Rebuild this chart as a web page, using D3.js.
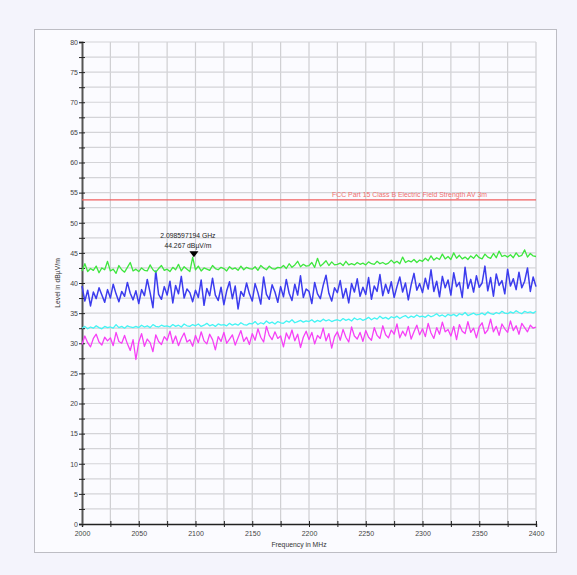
<!DOCTYPE html>
<html>
<head>
<meta charset="utf-8">
<script src="https://cdn.jsdelivr.net/npm/d3@7"></script>
<style>
  body { margin: 0; background: #f4f4fc; }
  svg { display: block; font-family: "Liberation Sans", Arial, sans-serif; }
</style>
</head>
<body>
<script>
var w = 577, h = 575;

// frequency axis: 2000 .. 2400 MHz, one reading every 2.5 MHz
var fStart = 2000, fStep = 2.5;

var green = [
  42.0, 43.2, 41.9, 42.4, 42.1, 42.8, 41.7, 42.5, 42.2, 43.6,
  42.0, 42.3, 41.6, 42.9, 42.2, 41.8, 42.6, 43.4, 42.0, 42.3,
  41.9, 42.5, 42.1, 42.0, 43.0, 42.2, 41.8, 42.4, 42.9, 42.1,
  42.3, 41.9, 42.6, 42.2, 43.1, 42.0, 42.7, 42.3, 41.9, 44.27,
  42.2, 42.8, 42.0, 42.5, 42.3, 42.1, 42.9, 42.4, 42.2, 42.6,
  42.4, 42.0, 42.7, 42.3, 42.5, 42.1, 42.8, 42.2, 42.6, 42.4,
  42.3, 42.7, 42.1, 42.9, 42.5, 42.2, 42.8, 42.4, 42.3, 42.6,
  42.5, 42.9, 42.4, 43.2, 42.6, 43.0, 43.6, 42.7, 43.1, 42.8,
  42.9, 43.4, 42.6, 44.1, 42.8, 43.2, 43.7, 42.9, 43.5, 43.0,
  43.1, 43.3, 42.9, 43.6, 43.0, 43.2, 43.0, 43.4, 43.1, 43.3,
  43.0, 43.5, 43.2, 43.1, 43.6, 43.2, 43.4, 43.1, 43.3, 43.8,
  43.3, 43.6, 43.2, 44.3, 43.4, 43.7, 43.5, 43.9, 43.4, 43.8,
  43.6, 44.1, 43.7, 44.5, 43.8, 44.2, 43.9, 44.8, 44.0, 44.4,
  43.9, 45.0, 44.1, 44.6, 44.0, 44.3, 43.9, 44.5, 44.1, 44.7,
  44.2, 44.0, 44.8, 44.3, 44.1, 44.9, 44.2, 45.3, 44.4, 44.6,
  44.3, 44.7, 44.2, 45.0, 44.4, 44.6, 45.5, 44.3, 44.9, 44.5,
  44.4
];
var blue = [
  39.5, 37.0, 38.8, 36.2, 38.5, 37.4, 39.2, 38.0, 36.8, 38.9,
  37.5, 39.8, 38.2, 36.9, 38.6, 37.8, 40.1, 38.3, 37.2, 38.7,
  36.6, 38.9, 37.9, 40.6, 38.4, 35.9, 42.0, 38.1, 37.3, 39.4,
  38.0, 40.3, 36.7, 39.6, 38.2, 41.1, 37.5, 39.0, 38.4, 36.9,
  38.8, 37.6, 40.5, 36.3, 39.1, 37.9, 40.8, 38.0, 37.1, 39.3,
  36.4, 38.7, 40.2, 37.4, 39.5, 35.7, 38.6, 37.8, 40.0, 38.2,
  37.0, 39.9, 38.4, 36.5, 41.0, 38.1, 37.3, 39.7, 38.5, 36.8,
  39.4, 37.7, 40.6, 38.3, 37.1, 39.8, 38.0, 41.2, 37.6, 39.0,
  38.6, 36.6, 40.1, 38.2, 37.4, 39.6, 41.3, 38.3, 37.0, 39.2,
  38.4, 40.4, 37.5, 39.1, 36.7, 39.9, 38.5, 40.7, 37.8, 39.3,
  38.1, 40.9, 37.3, 39.5, 38.6, 41.4, 37.9, 39.8, 38.3, 40.2,
  37.6, 39.4, 41.0, 38.5, 40.0, 37.2, 39.7, 41.6, 38.8, 39.9,
  38.4, 40.8, 39.0, 42.2, 38.6, 40.3, 37.7, 41.1, 39.2, 40.5,
  38.0, 41.7, 39.4, 40.1, 37.6, 42.6, 39.1, 40.6, 38.5, 41.2,
  39.3, 40.0, 42.8, 38.7, 40.9, 37.8, 41.5, 39.6, 40.4, 38.2,
  42.3, 39.5, 40.7, 38.9, 41.8, 39.2, 40.3, 42.5, 38.6, 41.0,
  39.4
];
var cyan = [
  32.5, 32.8, 32.4, 32.7, 32.5, 32.9, 32.6, 32.4, 32.8, 32.6,
  32.7, 32.5, 33.1, 32.6, 32.8, 32.5, 32.9, 32.7, 32.6, 32.8,
  32.6, 33.0, 32.7, 32.9, 32.6, 33.1, 32.8, 32.7, 33.0, 32.8,
  32.9, 32.7, 33.1, 32.8, 33.0, 32.7, 33.2, 32.9, 32.8, 33.1,
  32.9, 33.2, 32.8, 33.0, 33.3, 32.9, 33.1, 32.8, 33.2, 33.0,
  33.1, 32.9, 33.3, 33.0, 33.2, 33.0, 33.4, 33.1, 33.0, 33.3,
  33.2, 33.6, 33.1, 33.4, 33.2, 33.7, 33.3, 33.5, 33.2, 33.6,
  33.4, 33.3, 33.7, 33.5, 33.9, 33.4, 33.6, 33.8, 33.5, 33.7,
  33.6, 33.9, 33.5, 33.8, 33.6, 34.0, 33.7, 33.9, 33.6, 33.8,
  33.9, 33.7, 34.1, 33.8, 34.0, 33.7, 34.2, 33.9, 34.1, 33.8,
  34.0, 34.3, 33.9, 34.2, 34.0, 34.5, 34.1, 34.3, 34.0, 34.4,
  34.2, 34.5, 34.1, 34.4, 34.6, 34.2, 34.5, 34.3, 34.7, 34.4,
  34.5, 34.3, 34.7, 34.4, 34.6, 34.9, 34.5, 34.7, 34.4, 34.8,
  34.6, 34.8, 34.5, 34.9, 34.7, 35.1, 34.6, 34.8, 35.0, 34.7,
  34.8, 35.0, 34.7, 35.2, 34.9, 34.8, 35.1, 34.9, 35.3, 35.0,
  34.9, 35.2, 35.0, 35.4, 35.1, 34.9, 35.3, 35.1, 35.2, 35.0,
  35.3
];
var magenta = [
  29.8, 31.2, 30.1, 29.4, 30.8, 31.5, 30.2, 29.7, 31.0, 30.4,
  30.9, 29.6, 31.8, 30.3, 30.0, 31.3, 29.9, 28.8, 30.6, 27.3,
  30.2, 31.6, 29.5, 30.7, 30.1, 28.6, 31.4, 30.3, 29.8, 31.1,
  30.5, 32.0, 30.0, 31.2, 29.6, 30.8, 31.7, 30.2, 30.6, 29.5,
  31.3, 30.1, 31.9, 30.4, 29.9, 31.5, 30.6, 28.9, 31.1, 30.3,
  31.8, 30.0, 30.7, 31.4, 29.7, 30.9, 32.1, 30.3, 31.0, 29.8,
  31.6, 30.5, 32.4, 31.0, 30.2, 32.8, 31.3, 30.6, 31.9, 30.8,
  31.2, 29.4, 31.7, 30.7, 32.2, 30.4, 31.5, 29.3, 31.0, 32.0,
  30.6, 31.8, 29.9, 31.3, 30.8, 32.5, 30.4, 31.6, 29.2, 31.1,
  31.9, 30.5, 32.3, 31.0, 30.2, 32.7, 31.2, 30.7, 31.8, 30.3,
  32.1, 31.0, 30.5, 32.6, 31.3, 30.8, 32.9, 31.4, 30.9, 32.2,
  31.5, 33.2, 30.9, 32.0, 31.2, 32.8, 30.7, 31.9, 33.0, 31.4,
  32.4, 31.1, 33.3, 31.7, 30.8, 32.6, 31.5, 33.5, 31.9, 32.3,
  31.2, 32.8, 30.6, 33.1, 32.0, 31.6, 33.6, 31.8, 32.5, 30.9,
  32.7, 33.4, 31.6, 32.2, 34.0, 31.9, 32.8, 31.3, 33.2, 32.4,
  31.8, 33.7, 32.1, 32.9, 31.5, 33.3, 32.6, 31.9, 33.0, 32.5,
  32.7
];

var limitValue = 53.8;
var limitLabel = "FCC Part 15 Class B Electric Field Strength AV 3m";
var markerFreq = 2098.597194;
var markerLevel = 44.267;
var markerLines = ["2.098597194 GHz", "44.267 dB\u00b5V/m"];

var xTicks = [2000, 2050, 2100, 2150, 2200, 2250, 2300, 2350, 2400];
var yTicks = [0, 5, 10, 15, 20, 25, 30, 35, 40, 45, 50, 55, 60, 65, 70, 75, 80];

var series = [
  { name: "cyan", values: cyan, color: "#44f4f4", width: 1.3 },
  { name: "magenta", values: magenta, color: "#f640f6", width: 1.3 },
  { name: "blue", values: blue, color: "#3c3cee", width: 1.5 },
  { name: "green", values: green, color: "#3ee63e", width: 1.3 }
];

var svg = d3.select("body").append("svg")
  .attr("width", w)
  .attr("height", h);

svg.append("rect")
  .attr("x", 34.5).attr("y", 29.5)
  .attr("width", 522).attr("height", 523)
  .style("fill", "#fbfbff")
  .style("stroke", "#bdbdc4");

var x = d3.scaleLinear().domain([2000, 2400]).range([82, 536]);
var y = d3.scaleLinear().domain([0, 80]).range([524, 42]);

// grid
var gx = d3.range(2000, 2401, 25);
var gy = d3.range(0, 80.1, 2.5);

svg.append("g").selectAll("line")
  .data(gx.slice(1))
  .enter().append("line")
  .attr("x1", function(d){ return x(d); })
  .attr("x2", function(d){ return x(d); })
  .attr("y1", y(80)).attr("y2", y(0))
  .style("stroke", "#cfcfd2")
  .style("stroke-width", 1.2);

svg.append("g").selectAll("line")
  .data(gy.slice(1))
  .enter().append("line")
  .attr("x1", x(2000)).attr("x2", x(2400))
  .attr("y1", function(d){ return y(d); })
  .attr("y2", function(d){ return y(d); })
  .style("stroke", "#d4d4d8")
  .style("stroke-width", 1.2);

// axes
var xAxis = d3.axisBottom(x).tickValues(gx).tickSize(3)
  .tickFormat(function(d){ return xTicks.indexOf(d) >= 0 ? d : ""; });
var gX = svg.append("g").attr("transform", "translate(0," + y(0) + ")").call(xAxis);
gX.select(".domain").style("stroke", "#222").style("stroke-width", 1.4);
gX.selectAll(".tick line").attr("y1", -3).style("stroke", "#222");
gX.selectAll(".tick text").attr("y", 7).style("font-size", "7px").style("fill", "#444");

var yAxis = d3.axisLeft(y).tickValues(gy).tickSize(3)
  .tickFormat(function(d){ return yTicks.indexOf(d) >= 0 ? d : ""; });
var gY = svg.append("g").attr("transform", "translate(" + x(2000) + ",0)").call(yAxis);
gY.select(".domain").style("stroke", "#555").style("stroke-width", 2);
gY.selectAll(".tick line").attr("x1", 3).style("stroke", "#222");
gY.selectAll(".tick text").attr("x", -4).style("font-size", "7px").style("fill", "#444");

// limit line
svg.append("line")
  .attr("x1", x(2000)).attr("x2", x(2400))
  .attr("y1", y(limitValue)).attr("y2", y(limitValue))
  .style("stroke", "#f06060")
  .style("stroke-width", 1.4);
svg.append("text")
  .attr("x", x(2400) - 49).attr("y", y(limitValue) - 2.5)
  .attr("text-anchor", "end")
  .style("font-size", "6.9px")
  .style("fill", "#f07070")
  .text(limitLabel);

// traces
var line = d3.line()
  .x(function(d, i){ return x(fStart + i * fStep); })
  .y(function(d){ return y(d); });

svg.append("g").selectAll("path")
  .data(series)
  .enter().append("path")
  .attr("d", function(d){ return line(d.values); })
  .style("fill", "none")
  .style("stroke", function(d){ return d.color; })
  .style("stroke-width", function(d){ return d.width; })
  .style("stroke-linejoin", "round");

// marker
var mx = x(markerFreq), my = y(markerLevel);
svg.append("path")
  .attr("d", "M" + (mx - 4.5) + "," + (my - 6) + "L" + (mx + 4.5) + "," + (my - 6) + "L" + mx + "," + my + "Z")
  .style("fill", "#000");
svg.append("g").selectAll("text")
  .data(markerLines)
  .enter().append("text")
  .attr("x", mx - 6)
  .attr("y", function(d, i){ return my - 19 + i * 9.5; })
  .attr("text-anchor", "middle")
  .style("font-size", "6.8px")
  .style("fill", "#222")
  .text(function(d){ return d; });

// axis titles
svg.append("text")
  .attr("x", 299).attr("y", 547)
  .attr("text-anchor", "middle")
  .style("font-size", "6.8px")
  .style("fill", "#333")
  .text("Frequency in MHz");
svg.append("text")
  .attr("transform", "translate(60," + (y(40)) + ") rotate(-90)")
  .attr("text-anchor", "middle")
  .style("font-size", "6.8px")
  .style("fill", "#333")
  .text("Level in dB\u00b5V/m");
</script>
</body>
</html>
